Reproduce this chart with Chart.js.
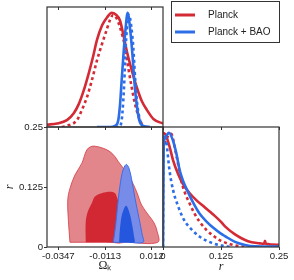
<!DOCTYPE html>
<html>
<head>
<meta charset="utf-8">
<script src="https://cdn.jsdelivr.net/npm/chart.js@4.4.0/dist/chart.umd.min.js"></script>
<style>
    html, body { margin: 0; padding: 0; background: #fff; }
    #wrap { position: relative; width: 294px; height: 280px; }
    #wrap canvas { position: absolute; left: 0; top: 0; }
</style>
</head>
<body>
<div id="wrap">
    <canvas id="cOmk" width="294" height="280"></canvas>
    <canvas id="c2d" width="294" height="280"></canvas>
    <canvas id="cR" width="294" height="280"></canvas>
</div>
<script>
// ============================================================
//  DATA
// ============================================================

const legendLabels = ['Planck', 'Planck + BAO'];

const omkTicks = [-0.0347, -0.0113, 0.012];
const omkTickLabels = ['-0.0347', '-0.0113', '0.012'];
const rTicks = [0, 0.125, 0.25];
const rTickLabels = ['0', '0.125', '0.25'];

// 1D posterior of Omega_k  [omk, density]
const omkPlanck = [[-0.0404, 0.02], [-0.0354, 0.03], [-0.0304, 0.06], [-0.0270, 0.12], [-0.0245, 0.20],
    [-0.0220, 0.32], [-0.0195, 0.47], [-0.0174, 0.61], [-0.0154, 0.76], [-0.0128, 0.89], [-0.0103, 0.96],
    [-0.0080, 1.00], [-0.0060, 0.985], [-0.0038, 0.93], [-0.0022, 0.81], [-0.0005, 0.67], [0.0020, 0.50],
    [0.0045, 0.35], [0.0070, 0.23], [0.0096, 0.15], [0.0129, 0.07], [0.0177, 0.03]];
const omkPlanckAlt = [[-0.0330, 0.0], [-0.0304, 0.01], [-0.0254, 0.06], [-0.0229, 0.15], [-0.0204, 0.26],
    [-0.0179, 0.41], [-0.0154, 0.58], [-0.0128, 0.73], [-0.0107, 0.84], [-0.0090, 0.93], [-0.0073, 0.98],
    [-0.0055, 0.95], [-0.0038, 0.87], [-0.0013, 0.70], [0.0003, 0.52], [0.0020, 0.35], [0.0037, 0.20],
    [0.0053, 0.10], [0.0070, 0.03], [0.0087, 0.0]];
const omkBao = [[-0.0154, 0.0], [-0.0088, 0.0], [-0.0063, 0.01], [-0.0047, 0.06], [-0.0038, 0.20],
    [-0.0030, 0.41], [-0.0022, 0.61], [-0.0013, 0.81], [0.0000, 1.0], [0.0015, 0.81], [0.0025, 0.61],
    [0.0033, 0.41], [0.0045, 0.20], [0.0058, 0.06], [0.0078, 0.01], [0.0112, 0.0]];
const omkBaoAlt = [[-0.0060, 0.0], [-0.0043, 0.0], [-0.0030, 0.06], [-0.0022, 0.23], [-0.0015, 0.47],
    [-0.0008, 0.76], [0.0007, 0.98], [0.0018, 0.88], [0.0028, 0.70], [0.0038, 0.41], [0.0048, 0.20],
    [0.0062, 0.06], [0.0077, 0.0]];

// 1D posterior of r  [r, density]
const rPlanck = [[0, 1.0], [0.0058, 0.98], [0.0144, 0.875], [0.0216, 0.76], [0.0323, 0.64], [0.0431, 0.55],
    [0.0575, 0.47], [0.0718, 0.41], [0.0862, 0.36], [0.1006, 0.31], [0.1121, 0.27], [0.125, 0.22],
    [0.1336, 0.18], [0.1552, 0.11], [0.1832, 0.05], [0.209, 0.032], [0.218, 0.028], [0.2198, 0.055],
    [0.2215, 0.028], [0.25, 0.02]];
const rPlanckAlt = [[0, 0.85], [0.008, 0.95], [0.0179, 0.99], [0.0252, 0.875], [0.0323, 0.73], [0.0394, 0.58],
    [0.0468, 0.48], [0.0575, 0.38], [0.0683, 0.29], [0.0791, 0.22], [0.0933, 0.15], [0.1078, 0.10],
    [0.1222, 0.06], [0.1401, 0.03], [0.16, 0.01], [0.175, 0]];
const rBao = [[0, 0], [0.0015, 0.88], [0.006, 0.97], [0.0129, 1.0], [0.0216, 0.93], [0.0287, 0.82],
    [0.0360, 0.67], [0.0431, 0.58], [0.0539, 0.48], [0.0647, 0.39], [0.0791, 0.29], [0.0933, 0.225],
    [0.1078, 0.17], [0.1256, 0.115], [0.1336, 0.095], [0.1552, 0.045], [0.1767, 0.018], [0.1983, 0.006],
    [0.25, 0.003]];
const rBaoAlt = [[0, 0], [0.0008, 0.9], [0.003, 0.98], [0.0071, 0.93], [0.0105, 0.80], [0.014, 0.67],
    [0.0216, 0.50], [0.0323, 0.36], [0.045, 0.24], [0.0647, 0.14], [0.0791, 0.09], [0.1056, 0.035],
    [0.127, 0.012], [0.145, 0]];

// 2D contours (omk, r), outer = 95%, inner = 68%
const planckOuter = [[-0.0289, 0.0098], [-0.0297, 0.056], [-0.0300, 0.098], [-0.0289, 0.122], [-0.0264, 0.150],
    [-0.0230, 0.174], [-0.0205, 0.202], [-0.0185, 0.209], [-0.0164, 0.210], [-0.0122, 0.2056], [-0.0088, 0.1985],
    [-0.0063, 0.188], [-0.0047, 0.178], [-0.0027, 0.167], [0.0012, 0.144], [0.0045, 0.115], [0.0070, 0.0875],
    [0.0104, 0.0667], [0.0129, 0.0527], [0.0146, 0.0354], [0.0151, 0.0098], [0.0, 0.0098], [-0.015, 0.0098],
    [-0.0289, 0.0098]];
const planckInner = [[-0.0210, 0.0098], [-0.0210, 0.0527], [-0.0200, 0.0735], [-0.0180, 0.091], [-0.0164, 0.105],
    [-0.0130, 0.112], [-0.0088, 0.115], [-0.0063, 0.112], [-0.0055, 0.105], [-0.0033, 0.077], [-0.0020, 0.035],
    [-0.0017, 0.0098], [-0.011, 0.0098], [-0.0210, 0.0098]];
const baoOuter = [[-0.0072, 0.0098], [-0.0060, 0.0458], [-0.0050, 0.0875], [-0.0038, 0.129], [-0.0025, 0.158],
    [-0.0008, 0.172], [0.0005, 0.166], [0.0019, 0.143], [0.0037, 0.101], [0.0057, 0.0598], [0.0073, 0.025],
    [0.0078, 0.0098], [0.0003, 0.0098], [-0.0072, 0.0098]];
const baoInner = [[-0.0043, 0.0098], [-0.0038, 0.040], [-0.0028, 0.068], [-0.0008, 0.086], [0.0010, 0.070],
    [0.0023, 0.045], [0.0032, 0.022], [0.0034, 0.0098], [-0.0005, 0.0098], [-0.0043, 0.0098]];

// ============================================================
//  STYLE / LAYOUT
// ============================================================

const RED = '#d42a35';
const BLUE = '#2c6de8';
const seriesColors = [RED, BLUE];
const OMK_MIN = -0.0404, OMK_MAX = 0.0177;
const R_MIN = 0, R_MAX = 0.25;
const DENS_MAX = 1.05;
const tickFont = { family: 'Liberation Sans', size: 9.6 };
const AXIS = '#333';

Chart.defaults.animation = false;
Chart.defaults.plugins.legend.display = false;
Chart.defaults.plugins.tooltip.enabled = false;

const pts = arr => arr.map(p => ({ x: p[0], y: p[1] }));

// note: 'order' - higher value is drawn first (underneath)
function curve(arr, color, dashed, order) {
    return {
        data: pts(arr), showLine: true, pointRadius: 0, order: order,
        borderColor: color, borderWidth: 2.6,
        borderDash: dashed ? [3, 3] : [],
        cubicInterpolationMode: 'monotone', fill: false
    };
}

function contour(arr, fillColor, lineColor, lineWidth, order) {
    return {
        data: pts(arr), showLine: true, pointRadius: 0, tension: 0.35, order: order,
        backgroundColor: fillColor, borderColor: lineColor, borderWidth: lineWidth,
        fill: 'shape'
    };
}

function fixedTicks(values) {
    return s => { s.ticks = values.map(v => ({ value: v })); };
}

// box around each panel
const framePlugin = {
    id: 'frame',
    afterDraw(chart) {
        const a = chart.chartArea;
        const ctx = chart.ctx;
        ctx.save();
        ctx.strokeStyle = AXIS;
        ctx.lineWidth = 1.2;
        ctx.strokeRect(a.left, a.top, a.right - a.left, a.bottom - a.top);
        ctx.restore();
    }
};

// boxed legend in the empty top-right corner
const legendPlugin = {
    id: 'boxLegend',
    afterDraw(chart) {
        const ctx = chart.ctx;
        ctx.save();
        ctx.strokeStyle = AXIS;
        ctx.lineWidth = 1;
        ctx.strokeRect(171.5, 1.5, 108, 41);
        legendLabels.forEach((lab, i) => {
            const y = 15 + i * 17;
            ctx.strokeStyle = seriesColors[i];
            ctx.lineWidth = 3;
            ctx.beginPath();
            ctx.moveTo(175, y);
            ctx.lineTo(195, y);
            ctx.stroke();
            ctx.fillStyle = '#222';
            ctx.font = '10px "Liberation Sans"';
            ctx.textBaseline = 'middle';
            ctx.fillText(lab, 208, y);
        });
        ctx.restore();
    }
};

// inward tick marks on the top edge, no labels
function topTicks(min, max, values) {
    return {
        type: 'linear', position: 'top', min: min, max: max,
        afterBuildTicks: fixedTicks(values),
        afterFit: s => { s.height = 0; },
        ticks: { display: false },
        grid: { drawOnChartArea: false, tickLength: -3, color: AXIS },
        border: { display: false }
    };
}

// ============================================================
//  TOP-LEFT: 1D Omega_k
// ============================================================

new Chart(document.getElementById('cOmk'), {
    type: 'scatter',
    data: {
        datasets: [
            curve(omkPlanck, RED, false, 4),
            curve(omkPlanckAlt, RED, true, 3),
            curve(omkBao, BLUE, false, 2),
            curve(omkBaoAlt, BLUE, true, 1)
        ]
    },
    options: {
        responsive: false, devicePixelRatio: 1,
        layout: { padding: { left: 47, top: 7, right: 131, bottom: 153 } },
        scales: {
            x: topTicks(OMK_MIN, OMK_MAX, omkTicks),
            y: { type: 'linear', min: 0, max: DENS_MAX, display: false }
        }
    },
    plugins: [framePlugin, legendPlugin]
});

// ============================================================
//  BOTTOM-LEFT: 2D Omega_k vs r
// ============================================================

new Chart(document.getElementById('c2d'), {
    type: 'scatter',
    data: {
        datasets: [
            contour(planckOuter, '#e3868b', '#d43a44', 0.8, 4),
            contour(planckInner, '#d22834', 'rgba(0,0,0,0)', 0, 3),
            contour(baoOuter, '#768ce8', '#3b6ee8', 1, 2),
            contour(baoInner, '#2456de', 'rgba(0,0,0,0)', 0, 1)
        ]
    },
    options: {
        responsive: false, devicePixelRatio: 1,
        layout: { padding: { left: 0, top: 127, right: 131, bottom: 0 } },
        scales: {
            x: {
                type: 'linear', position: 'bottom', min: OMK_MIN, max: OMK_MAX,
                afterBuildTicks: fixedTicks(omkTicks),
                afterFit: s => { s.height = 33; },
                ticks: {
                    callback: (v, i) => omkTickLabels[i], font: tickFont, color: '#222',
                    padding: 1, maxRotation: 0, autoSkip: false
                },
                grid: { drawOnChartArea: false, tickLength: 3, color: AXIS },
                border: { display: false },
                title: {
                    display: true, text: 'Ωₖ', color: '#222',
                    font: { family: 'Liberation Serif', size: 12 },
                    padding: { top: 0, bottom: 7 }
                }
            },
            x2: topTicks(OMK_MIN, OMK_MAX, omkTicks),
            y: {
                type: 'linear', position: 'left', min: R_MIN, max: R_MAX,
                afterBuildTicks: fixedTicks(rTicks),
                afterFit: s => { s.width = 47; },
                ticks: { callback: (v, i) => rTickLabels[i], font: tickFont, color: '#222', padding: 1 },
                grid: { drawOnChartArea: false, tickLength: 3, color: AXIS },
                border: { display: false },
                title: {
                    display: true, text: 'r', color: '#222',
                    font: { family: 'Liberation Serif', size: 12, style: 'italic' },
                    padding: { top: 3, bottom: 0 }
                }
            }
        }
    },
    plugins: [framePlugin]
});

// ============================================================
//  BOTTOM-RIGHT: 1D r
// ============================================================

new Chart(document.getElementById('cR'), {
    type: 'scatter',
    data: {
        datasets: [
            curve(rPlanck, RED, false, 4),
            curve(rPlanckAlt, RED, true, 3),
            curve(rBao, BLUE, false, 2),
            curve(rBaoAlt, BLUE, true, 1)
        ]
    },
    options: {
        responsive: false, devicePixelRatio: 1,
        layout: { padding: { left: 163, top: 127, right: 15, bottom: 0 } },
        scales: {
            x: {
                type: 'linear', position: 'bottom', min: R_MIN, max: R_MAX,
                afterBuildTicks: fixedTicks(rTicks),
                afterFit: s => { s.height = 33; },
                ticks: {
                    callback: (v, i) => rTickLabels[i], font: tickFont, color: '#222',
                    padding: 1, maxRotation: 0, autoSkip: false
                },
                grid: { drawOnChartArea: false, tickLength: 3, color: AXIS },
                border: { display: false },
                title: {
                    display: true, text: 'r', color: '#222',
                    font: { family: 'Liberation Serif', size: 12, style: 'italic' },
                    padding: { top: 0, bottom: 6 }
                }
            },
            x2: topTicks(R_MIN, R_MAX, rTicks),
            y: { type: 'linear', min: 0, max: DENS_MAX, display: false }
        }
    },
    plugins: [framePlugin]
});
</script>
</body>
</html>
